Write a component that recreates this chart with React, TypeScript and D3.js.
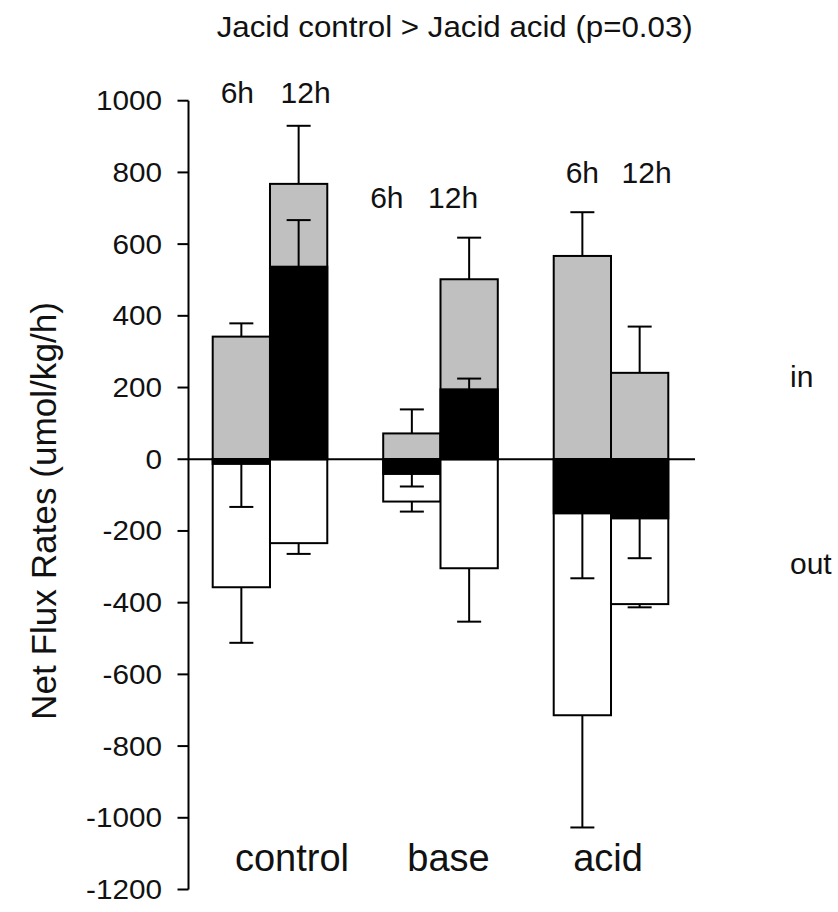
import React from "react";
import * as d3 from "d3";

// Treatment groups and sampling times
const groups = ["control", "base", "acid"];
const times = ["6h", "12h"];

// Means and SE, ordered control 6h, control 12h, base 6h, base 12h, acid 6h, acid 12h
const influx = [342, 768, 72, 502, 567, 241];
const influxErr = [37, 162, 67, 116, 122, 129];
const netFlux = [-13, 537, -41, 195, -151, -165];
const netFluxErr = [120, 130, 35, 30, 181, 111];
const efflux = [-357, -234, -118, -304, -714, -404];
const effluxErr = [155, 30, 28, 149, 313, 9];

const yTicks = [1000, 800, 600, 400, 200, 0, -200, -400, -600, -800, -1000, -1200];

const title = "Jacid control > Jacid acid (p=0.03)";
const yLabel = "Net Flux Rates (umol/kg/h)";
const sideLabels = ["in", "out"];

const W = 838;
const H = 912;
const FONT = "'Liberation Sans', Arial, Helvetica, sans-serif";

// layout of the time labels above each group
const timeLabelBaseline: Record<string, number> = { control: 103, base: 208, acid: 183 };
const timeLabelShift: Record<string, [number, number]> = {
  control: [-4, 7],
  base: [-25, -16],
  acid: [0, 7],
};
// horizontal nudge of the group names relative to the group centre
const groupLabelShift: Record<string, number> = { control: 22, base: 8, acid: -3 };

export default function App() {
  const y = d3.scaleLinear().domain([-1200, 1000]).range([889.5, 100.7]);
  const x = d3
    .scaleBand<string>()
    .domain(groups)
    .range([212.7, 668.3])
    .paddingInner(0.328)
    .paddingOuter(0);
  const xi = d3.scaleBand<string>().domain(times).range([0, x.bandwidth()]).padding(0);

  const axisX = 188.5;
  const y0 = y(0);
  const capW = 24;

  const bars = groups.flatMap((g, gi) =>
    times.map((t, ti) => {
      const i = gi * times.length + ti;
      const left = (x(g) as number) + (xi(t) as number);
      return {
        g,
        t,
        left,
        w: xi.bandwidth(),
        cx: left + xi.bandwidth() / 2,
        inV: influx[i],
        inE: influxErr[i],
        net: netFlux[i],
        netE: netFluxErr[i],
        out: efflux[i],
        outE: effluxErr[i],
      };
    })
  );

  const rect = (v: number) => ({ y: Math.min(y(v), y0), h: Math.abs(y(v) - y0) });

  const errBar = (cx: number, v: number, e: number, key: string) => {
    const end = v >= 0 ? v + e : v - e;
    return (
      <g key={key} stroke="#000" strokeWidth={2}>
        <line x1={cx} x2={cx} y1={y(v)} y2={y(end)} />
        <line x1={cx - capW / 2} x2={cx + capW / 2} y1={y(end)} y2={y(end)} />
      </g>
    );
  };

  return (
    <svg
      width={W}
      height={H}
      style={{ position: "absolute", left: 0, top: 0, background: "#fff" }}
      fontFamily={FONT}
    >
      <rect x={0} y={0} width={W} height={H} fill="#fff" />

      {/* title */}
      <text x={216.7} y={37} fontSize={30} textLength={476} lengthAdjust="spacingAndGlyphs" fill="#111">
        {title}
      </text>

      {/* y axis */}
      <line x1={axisX} x2={axisX} y1={y(1000)} y2={y(-1200)} stroke="#000" strokeWidth={2} />
      {yTicks.map((v) => (
        <g key={v}>
          <line x1={axisX - 11} x2={axisX} y1={y(v)} y2={y(v)} stroke="#000" strokeWidth={2} />
          <text
            transform={`translate(162, ${y(v) + 9.5}) scale(1.1, 1)`}
            fontSize={27}
            textAnchor="end"
            fill="#111"
          >
            {v}
          </text>
        </g>
      ))}
      <text
        transform={`translate(56, 511) rotate(-90)`}
        fontSize={35}
        textAnchor="middle"
        textLength={418}
        lengthAdjust="spacingAndGlyphs"
        fill="#111"
      >
        {yLabel}
      </text>

      {/* bars: influx (grey), efflux (white), net flux (black) */}
      {bars.map((b) => {
        const ri = rect(b.inV);
        const ro = rect(b.out);
        const rn = rect(b.net);
        return (
          <g key={b.g + b.t}>
            <rect x={b.left} y={ri.y} width={b.w} height={ri.h} fill="#c0c0c0" stroke="#000" strokeWidth={2} />
            <rect x={b.left} y={ro.y} width={b.w} height={ro.h} fill="#fff" stroke="#000" strokeWidth={2} />
            <rect x={b.left} y={rn.y} width={b.w} height={rn.h} fill="#000" stroke="#000" strokeWidth={2} />
          </g>
        );
      })}
      {bars.map((b) => (
        <g key={"e" + b.g + b.t}>
          {errBar(b.cx, b.inV, b.inE, "i")}
          {errBar(b.cx, b.out, b.outE, "o")}
          {errBar(b.cx, b.net, b.netE, "n")}
        </g>
      ))}

      {/* zero line */}
      <line x1={axisX} x2={695} y1={y0} y2={y0} stroke="#000" strokeWidth={2} />

      {/* time labels */}
      {bars.map((b) => {
        const ti = times.indexOf(b.t);
        return (
          <text
            key={"t" + b.g + b.t}
            x={b.cx + timeLabelShift[b.g][ti]}
            y={timeLabelBaseline[b.g]}
            fontSize={30}
            textAnchor="middle"
            fill="#111"
          >
            {b.t}
          </text>
        );
      })}

      {/* group labels */}
      {groups.map((g) => (
        <text
          key={"g" + g}
          x={(x(g) as number) + x.bandwidth() / 2 + groupLabelShift[g]}
          y={871}
          fontSize={38}
          textAnchor="middle"
          fill="#111"
        >
          {g}
        </text>
      ))}

      {/* in / out */}
      <text x={790} y={387} fontSize={30} fill="#111">
        {sideLabels[0]}
      </text>
      <text x={790} y={574} fontSize={30} fill="#111">
        {sideLabels[1]}
      </text>
    </svg>
  );
}
